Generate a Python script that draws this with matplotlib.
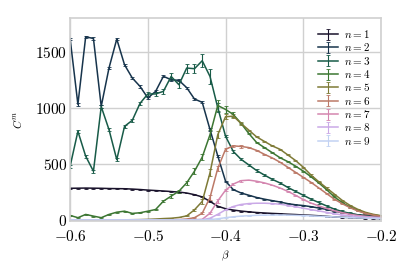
import matplotlib
matplotlib.use('Agg')
import matplotlib.pyplot as plt
import numpy as np

plt.rcParams['font.family'] = 'serif'
plt.rcParams['font.serif'] = ['cmr10']
plt.rcParams['mathtext.fontset'] = 'cm'
plt.rcParams['axes.formatter.use_mathtext'] = True

# beta grid, -0.60 ... -0.20 in steps of 0.01
beta = np.round(np.arange(-0.60, -0.195, 0.01), 2)

c1 = [282, 283, 284, 283, 282, 280, 279, 278, 275, 271, 266, 262, 258, 253, 248, 240, 225, 205, 165, 122,
      100, 88, 79, 72, 66, 62, 58, 55, 51, 48, 44, 41, 37, 32, 27, 24, 21, 18, 16, 14, 12]
c2 = [1615, 1030, 1633, 1617, 1012, 1354, 1612, 1383, 1265, 1190, 1087, 1146, 1280, 1250, 1244, 1179, 1078, 1048, 805, 570,
      345, 270, 240, 220, 200, 185, 172, 160, 145, 135, 128, 118, 106, 94, 78, 66, 55, 46, 40, 35, 31]
c3 = [479, 790, 568, 434, 1010, 805, 538, 834, 888, 1040, 1123, 1123, 1146, 1279, 1205, 1354, 1348, 1419, 1279, 1000,
      746, 610, 540, 490, 440, 400, 362, 330, 290, 255, 220, 185, 155, 125, 96, 75, 58, 45, 35, 28, 22]
c4 = [40, 20, 49, 34, 20, 49, 69, 78, 58, 64, 78, 93, 167, 212, 256, 331, 434, 560, 760, 1020,
      985, 940, 860, 770, 690, 645, 600, 555, 520, 480, 435, 385, 330, 270, 205, 155, 115, 85, 60, 45, 35]
c5 = [0, 0, 0, 0, 0, 0, 0, 1, 2, 3, 5, 8, 12, 15, 22, 36, 90, 165, 420, 760,
      920, 925, 860, 800, 740, 700, 660, 630, 580, 530, 470, 400, 340, 285, 230, 175, 130, 95, 68, 50, 38]
c6 = [0, 0, 0, 0, 0, 0, 0, 0, 0, 0, 0, 0, 1, 2, 3, 8, 20, 60, 200, 460,
      630, 660, 655, 645, 620, 585, 553, 515, 470, 425, 380, 335, 285, 235, 185, 145, 110, 80, 58, 43, 32]
c7 = [0, 0, 0, 0, 0, 0, 0, 0, 0, 0, 0, 0, 0, 0, 0, 1, 2, 5, 60, 170,
      265, 320, 350, 355, 345, 330, 310, 285, 255, 220, 182, 150, 125, 102, 82, 65, 50, 40, 32, 26, 22]
c8 = [0, 0, 0, 0, 0, 0, 0, 0, 0, 0, 0, 0, 0, 0, 0, 0, 0, 2, 15, 50,
      90, 120, 138, 146, 149, 149, 146, 140, 130, 118, 105, 92, 80, 68, 55, 45, 37, 30, 25, 21, 18]
c9 = [0, 0, 0, 0, 0, 0, 0, 0, 0, 0, 0, 0, 0, 0, 0, 0, 0, 0, 3, 10,
      20, 28, 34, 38, 41, 43, 44, 44, 43, 41, 39, 36, 33, 30, 27, 24, 21, 18, 16, 14, 12]

# error bar half-heights
e1 = [4] * 41
e2 = [10] * 18 + [15, 10] + [5] * 21
e3 = [15] * 12 + [20, 30, 30, 40, 40, 60, 70, 40] + [10] * 21
e4 = [5] * 12 + [10, 15, 15, 20, 25, 30, 40, 50, 30, 20] + [5] * 19
e5 = [0] * 15 + [5, 10, 20, 30, 30, 20, 15, 10] + [5] * 18
e6 = [0] * 16 + [5, 10, 20, 20, 15, 10, 10] + [3] * 18
e7 = [0] * 17 + [5, 10, 15, 10, 10, 8] + [3] * 18
e8 = [0] * 18 + [3, 5, 5, 5] + [2] * 19
e9 = [0] * 19 + [2, 2] + [1] * 20

series = [c1, c2, c3, c4, c5, c6, c7, c8, c9]
errors = [e1, e2, e3, e4, e5, e6, e7, e8, e9]
labels = [f'$n=${k}' for k in range(1, 10)]

colors = plt.cm.cubehelix(np.linspace(0, 1, 12)[1:10])

fig = plt.figure(figsize=(4.15, 2.77), dpi=100)
ax = fig.add_axes([0.169, 0.202, 0.749, 0.733])

for y, err, lab, col in zip(series, errors, labels, colors):
    ax.errorbar(beta, y, yerr=err, color=col, lw=1.1, elinewidth=0.8,
                capsize=1.5, capthick=0.6, label=lab)

ax.set_xlim(-0.6, -0.2)
ax.set_ylim(-10, 1800)
ax.set_xticks([-0.6, -0.5, -0.4, -0.3, -0.2])
ax.set_yticks([0, 500, 1000, 1500])
ax.grid(color='#d0d0d0', lw=1.0)
ax.set_axisbelow(True)
for s in ax.spines.values():
    s.set_color('#d0d0d0')
    s.set_linewidth(1.2)
ax.tick_params(length=0, labelsize=11)
ax.tick_params(axis='x', pad=6)
ax.tick_params(axis='y', pad=2)
ax.set_xlabel(r'$\beta$', fontsize=8, labelpad=3)
ax.set_ylabel(r'$C^m$', fontsize=8, labelpad=8)

ax.legend(loc='upper right', frameon=False, fontsize=8, handlelength=1.8,
          handletextpad=0.6, labelspacing=0.12, borderaxespad=0.5)

fig.savefig('out.png', dpi=100)
